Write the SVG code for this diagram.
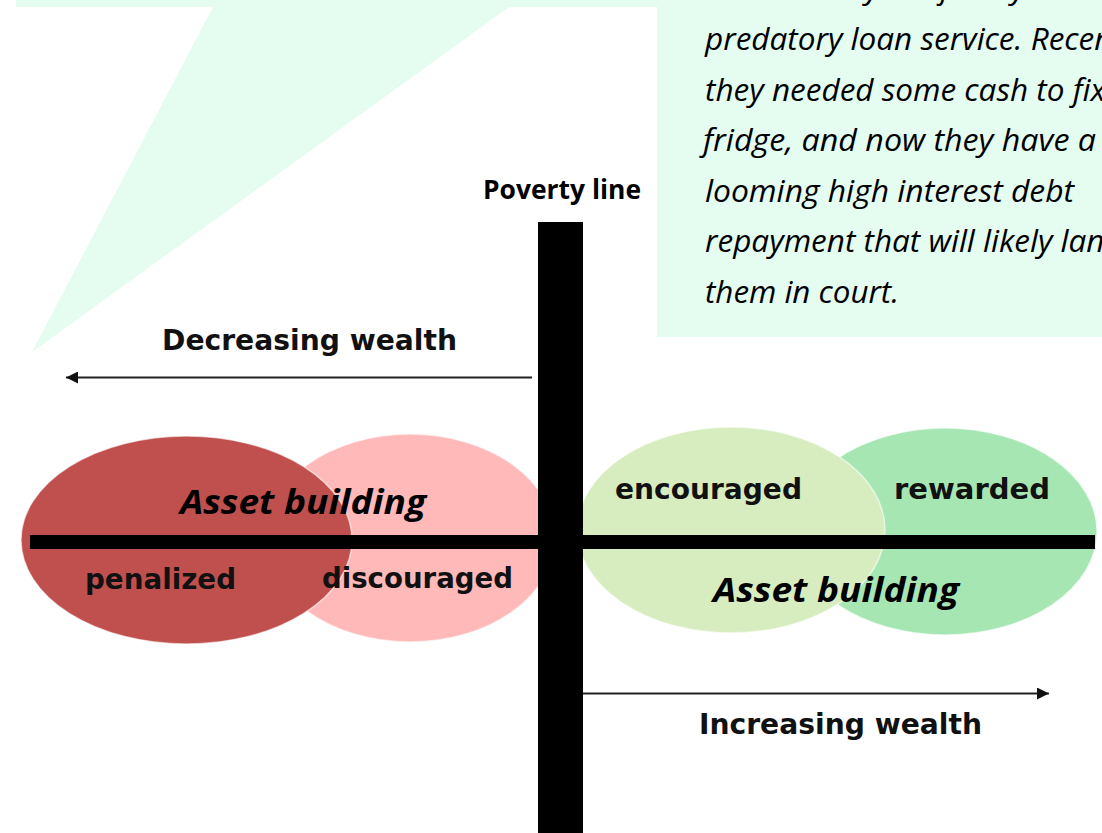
<svg xmlns="http://www.w3.org/2000/svg" width="1102" height="833" viewBox="0 0 1102 833">
<defs>
<style>
.callout{fill:#e5fcf0}
.ctext{font-family:"Open Sans","Noto Sans",sans-serif;font-style:italic;font-size:31.5px;fill:#000}
.lbl{font-family:"DejaVu Sans","Liberation Sans",sans-serif;font-weight:bold;font-size:29px;fill:#111}
.asset{font-family:"Open Sans","Noto Sans",sans-serif;font-weight:bold;font-style:italic;font-size:34px;fill:#000}
.pov{font-family:"Open Sans","Noto Sans",sans-serif;font-weight:bold;font-size:26px;fill:#000}
.bar{fill:#000}
.ell{stroke:#ffffff;stroke-opacity:0.6;stroke-width:1.5}
.arrow{stroke:#222;stroke-width:2;fill:none}
</style>
<marker id="ah" viewBox="0 0 10 10" refX="10" refY="5" markerWidth="7" markerHeight="6" markerUnits="strokeWidth" orient="auto">
<path d="M0,0 L10,5 L0,10 Z" fill="#111"/>
</marker>
</defs>
<rect width="1102" height="833" fill="#ffffff"/>

<g id="callout">
<path class="callout" d="M16,0 L1102,0 L1102,337 L657,337 L657,7 L509,7 L32,352 L213,7 L16,7 Z"/>
<text class="ctext" x="705" y="-1">Occasionally the family uses</text>
<text class="ctext" x="705" y="50">predatory loan service. Recently</text>
<text class="ctext" x="705" y="100.5">they needed some cash to fix</text>
<text class="ctext" x="703" y="151" textLength="393" lengthAdjust="spacingAndGlyphs">fridge, and now they have a</text>
<text class="ctext" x="705" y="201.5" textLength="369" lengthAdjust="spacingAndGlyphs">looming high interest debt</text>
<text class="ctext" x="705" y="252">repayment that will likely land</text>
<text class="ctext" x="705" y="302.5" textLength="194" lengthAdjust="spacingAndGlyphs">them in court.</text>
</g>

<g id="discouraged-node">
<ellipse class="ell" cx="410" cy="538" rx="145" ry="104" fill="#ffb9b9"/>
</g>
<g id="penalized-node">
<ellipse class="ell" cx="186.5" cy="540" rx="165.5" ry="104" fill="#c0504d"/>
</g>
<g id="rewarded-node">
<ellipse class="ell" cx="945" cy="531.5" rx="152" ry="103.5" fill="#a6e6b2"/>
</g>
<g id="encouraged-node">
<ellipse class="ell" cx="731" cy="530" rx="154" ry="103" fill="#d7edbf"/>
</g>

<g id="axes">
<rect class="bar" x="30" y="535" width="1065" height="14"/>
<rect class="bar" x="538" y="222" width="45" height="611"/>
</g>

<g id="connectors">
<line class="arrow" x1="532" y1="377.5" x2="66" y2="377.5" marker-end="url(#ah)"/>
<line class="arrow" x1="583" y1="693.5" x2="1049" y2="693.5" marker-end="url(#ah)"/>
</g>

<g id="labels">
<text class="pov" x="483" y="199" textLength="158" lengthAdjust="spacingAndGlyphs">Poverty line</text>
<text class="lbl" x="162" y="350" textLength="295" lengthAdjust="spacingAndGlyphs">Decreasing wealth</text>
<text class="lbl" x="699" y="734" textLength="283" lengthAdjust="spacingAndGlyphs">Increasing wealth</text>
<text class="asset" x="180" y="514" textLength="246" lengthAdjust="spacingAndGlyphs">Asset building</text>
<text class="asset" x="713" y="602" textLength="246" lengthAdjust="spacingAndGlyphs">Asset building</text>
<text class="lbl" x="85" y="589" textLength="151" lengthAdjust="spacingAndGlyphs">penalized</text>
<text class="lbl" x="322" y="588" textLength="191" lengthAdjust="spacingAndGlyphs">discouraged</text>
<text class="lbl" x="615" y="499" textLength="187" lengthAdjust="spacingAndGlyphs">encouraged</text>
<text class="lbl" x="894" y="499" textLength="156" lengthAdjust="spacingAndGlyphs">rewarded</text>
</g>
</svg>
